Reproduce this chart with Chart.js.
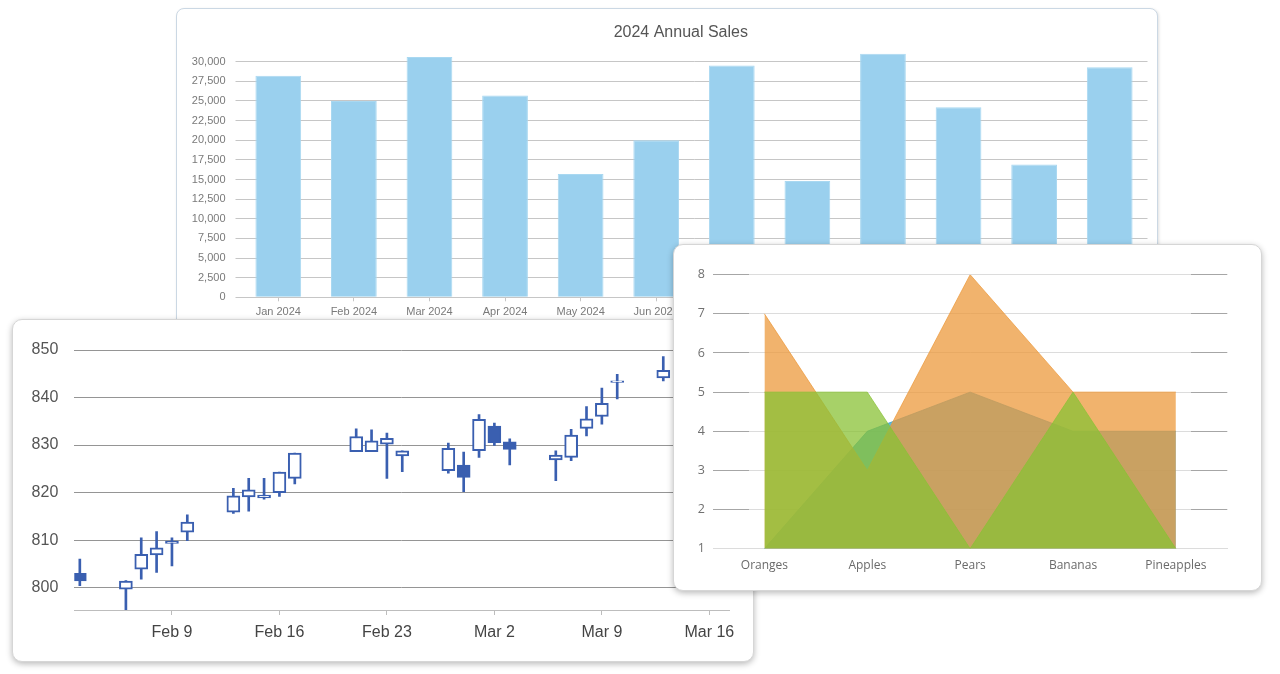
<!DOCTYPE html>
<html lang="en">
<head>
<meta charset="utf-8">
<title>Chart gallery</title>
<script src="https://cdn.jsdelivr.net/npm/chart.js@4.4.1/dist/chart.umd.min.js"></script>
<style>
  html, body { margin: 0; padding: 0; background: #fff; width: 1280px; height: 674px; overflow: hidden; }
  .card { position: absolute; box-sizing: border-box; background: #fff; overflow: hidden; }
  .card canvas { position: absolute; left: 0; top: 0; }
  #salesCard { left: 176px; top: 8px; width: 982px; height: 330px; border: 1px solid #cbd8e4; border-radius: 8px; box-shadow: 1px 1px 3px rgba(0,0,0,0.12); }
  #stockCard { left: 12px; top: 319px; width: 742px; height: 343px; border: 1px solid #d6d6d6; border-radius: 10px; box-shadow: 0 2px 6px rgba(0,0,0,0.28); }
  #fruitCard { left: 673px; top: 244px; width: 589px; height: 347px; border: 1px solid #d6d6d6; border-radius: 10px; box-shadow: 0 2px 6px rgba(0,0,0,0.28); }
</style>
</head>
<body>
<div class="card" id="salesCard"><canvas id="salesChart" width="980" height="328"></canvas></div>
<div class="card" id="stockCard"><canvas id="stockChart" width="740" height="341"></canvas></div>
<div class="card" id="fruitCard"><canvas id="fruitChart" width="587" height="345"></canvas></div>

<script>
// ── Sales (bar) data ──────────────────────────────────────
const salesTitle = '2024 Annual Sales';
const salesMonths = ['Jan 2024', 'Feb 2024', 'Mar 2024', 'Apr 2024', 'May 2024', 'Jun 2024',
                     'Jul 2024', 'Aug 2024', 'Sep 2024', 'Oct 2024', 'Nov 2024', 'Dec 2024'];
const salesValues = [28200, 25000, 30600, 25700, 15700, 20000, 29500, 14800, 31000, 24200, 16900, 29300];
const salesTicks = [0, 2500, 5000, 7500, 10000, 12500, 15000, 17500, 20000, 22500, 25000, 27500, 30000];

// ── Stock (candlestick) data — day number counted from Jan 31 ──
const stockDays  = [3, 6, 7, 8, 9, 10, 13, 14, 15, 16, 17, 21, 22, 23, 24, 27, 28, 29, 30, 31, 34, 35, 36, 37, 38, 41];
const stockOpen  = [803.0, 799.7, 803.9, 806.9, 809.3, 811.7, 815.9, 819.1, 818.9, 820.0, 823.0, 828.6, 828.6,
                    830.2, 827.7, 824.6, 825.8, 828.8, 834.0, 830.7, 826.9, 827.4, 833.5, 836.0, 843.2, 844.1];
const stockHigh  = [806.0, 801.5, 810.5, 811.8, 810.5, 815.3, 820.9, 823.0, 823.0, 824.3, 828.3, 833.4, 833.2,
                    832.5, 828.8, 830.4, 828.5, 836.4, 834.6, 831.3, 828.8, 833.3, 838.1, 842.0, 844.9, 848.6];
const stockLow   = [800.4, 794.0, 801.8, 803.2, 804.6, 809.9, 815.6, 816.1, 818.6, 819.2, 821.8, 828.6, 828.6,
                    823.0, 824.4, 824.1, 820.2, 827.4, 829.9, 825.8, 822.5, 826.7, 831.9, 834.4, 839.7, 843.5];
const stockClose = [801.4, 801.4, 807.0, 808.4, 809.8, 813.8, 819.3, 820.6, 819.5, 824.3, 828.3, 831.8, 830.9,
                    831.4, 828.8, 829.3, 823.2, 835.4, 830.5, 829.1, 827.9, 832.1, 835.5, 838.8, 843.5, 845.7];
const stockTickDays   = [9, 16, 23, 30, 37, 44];
const stockTickLabels = ['Feb 9', 'Feb 16', 'Feb 23', 'Mar 2', 'Mar 9', 'Mar 16'];
const stockYTicks     = [800, 810, 820, 830, 840, 850];

// ── Fruit (area) data ─────────────────────────────────────
const fruitNames  = ['Oranges', 'Apples', 'Pears', 'Bananas', 'Pineapples'];
const fruitBlue   = [1, 4, 5, 4, 4];
const fruitOrange = [7, 3, 8, 5, 5];
const fruitGreen  = [5, 5, 1, 5, 1];
const fruitYTicks = [1, 2, 3, 4, 5, 6, 7, 8];

// ── Helpers ───────────────────────────────────────────────
const SANS = '"Liberation Sans", Arial, Helvetica, sans-serif';
const SEGOE = '"Open Sans", "Noto Sans", sans-serif';
const CANDLE = '#3a5fb0';

const fixedTicks = list => scale => { scale.ticks = list.map(v => ({ value: v })); };
const fixedWidth = w => scale => { scale.width = w; };
const fixedHeight = h => scale => { scale.height = h; };
const quiet = { legend: { display: false }, tooltip: { enabled: false } };

// the original title sits a little left of the plot centre, so draw it by hand
const titleAt = {
  id: 'titleAt',
  afterDraw(chart, args, opts) {
    const c = chart.ctx;
    c.save();
    c.font = `16px ${SANS}`;
    c.fillStyle = '#555';
    c.textAlign = 'center';
    c.textBaseline = 'middle';
    c.fillText(opts.text, opts.x, opts.y);
    c.restore();
  },
};

// darker stubs at both ends of each gridline, like the original
function edgeGridColor(ctx) {
  const chart = ctx.chart, area = chart.chartArea;
  if (!area || (ctx.tick && ctx.tick.value === 1)) return '#dcdcdc';
  const g = chart.ctx.createLinearGradient(area.left, 0, area.right, 0);
  g.addColorStop(0, '#a6a6a6');
  g.addColorStop(0.07, '#a6a6a6');
  g.addColorStop(0.0701, '#dcdcdc');
  g.addColorStop(0.9299, '#dcdcdc');
  g.addColorStop(0.93, '#a6a6a6');
  g.addColorStop(1, '#a6a6a6');
  return g;
}

// ── Sales bar chart ───────────────────────────────────────
new Chart(document.getElementById('salesChart'), {
  type: 'bar',
  data: {
    labels: salesMonths,
    datasets: [{
      data: salesValues,
      backgroundColor: '#9ad0ee',
      borderColor: '#a9d8f1',
      borderWidth: 1,
      barPercentage: 0.605,
      categoryPercentage: 1,
    }],
  },
  plugins: [titleAt],
  options: {
    responsive: false,
    animation: false,
    layout: { padding: { left: 4, right: 9.5, top: 40.9, bottom: 9.7 } },
    plugins: {
      ...quiet,
      titleAt: { text: salesTitle, x: 503.8, y: 24 },
    },
    scales: {
      x: {
        afterFit: fixedHeight(30),
        grid: { offset: false, drawOnChartArea: false, tickLength: 4, color: '#c6c6c6' },
        border: { color: '#c6c6c6' },
        ticks: { padding: 4, color: '#7a7a7a', font: { family: SANS, size: 11 }, maxRotation: 0, autoSkip: false },
      },
      y: {
        min: 0,
        max: 31500,
        afterBuildTicks: fixedTicks(salesTicks),
        afterFit: fixedWidth(59.5),
        grid: { color: '#c6c6c6', tickLength: 5 },
        border: { display: false },
        ticks: { padding: 10, color: '#7a7a7a', font: { family: SANS, size: 11 }, callback: v => v.toLocaleString('en-US') },
      },
    },
  },
});

// ── Stock candlestick chart (floating bars: wick + body) ──
new Chart(document.getElementById('stockChart'), {
  type: 'bar',
  data: {
    datasets: [
      {
        order: 0,
        grouped: false,
        barThickness: 13,
        borderWidth: 2,
        borderColor: CANDLE,
        borderSkipped: false,
        backgroundColor: stockOpen.map((o, i) => (stockClose[i] < o ? CANDLE : '#ffffff')),
        data: stockDays.map((d, i) => ({ x: d, y: [stockOpen[i], stockClose[i]] })),
      },
      {
        order: 1,
        grouped: false,
        barThickness: 2,
        borderWidth: 0,
        backgroundColor: CANDLE,
        data: stockDays.map((d, i) => ({ x: d, y: [stockLow[i], stockHigh[i]] })),
      },
    ],
  },
  options: {
    responsive: false,
    animation: false,
    layout: { padding: { left: 11.3, right: 23.7, top: 30, bottom: 11 } },
    plugins: quiet,
    scales: {
      x: {
        type: 'linear',
        min: 2.64,
        max: 45.3,
        offset: false,
        afterBuildTicks: fixedTicks(stockTickDays),
        afterFit: fixedHeight(40),
        grid: { offset: false, drawOnChartArea: false, tickLength: 5, color: '#bdbdbd' },
        border: { color: '#bdbdbd' },
        ticks: {
          padding: 8, color: '#444', maxRotation: 0, autoSkip: false,
          font: { family: SANS, size: 16 },
          callback: v => stockTickLabels[stockTickDays.indexOf(v)],
        },
      },
      y: {
        min: 795.3,
        max: 850,
        beginAtZero: false,
        afterBuildTicks: fixedTicks(stockYTicks),
        afterFit: fixedWidth(50),
        grid: { color: '#959595', drawTicks: false },
        border: { display: false },
        ticks: { padding: 16, color: '#555', font: { family: SANS, size: 16 } },
      },
    },
  },
});

// ── Fruit area chart ──────────────────────────────────────
const area = (values, rgb, order) => ({
  data: values,
  order,
  fill: 'start',
  backgroundColor: `rgba(${rgb},0.75)`,
  borderColor: `rgba(${rgb},0.75)`,
  borderWidth: 1,
  pointRadius: 0,
  tension: 0,
});

new Chart(document.getElementById('fruitChart'), {
  type: 'line',
  data: {
    labels: fruitNames,
    datasets: [
      area(fruitGreen, '137,194,53', 0),
      area(fruitOrange, '236,153,60', 1),
      area(fruitBlue, '45,159,199', 2),
    ],
  },
  options: {
    responsive: false,
    animation: false,
    layout: { padding: { left: 9, right: 33.7, top: 29.7, bottom: 11.3 } },
    plugins: quiet,
    scales: {
      x: {
        offset: true,
        afterFit: fixedHeight(30),
        grid: { display: false },
        border: { color: '#dcdcdc' },
        ticks: { padding: 1.5, color: '#6a6a6a', font: { family: SEGOE, size: 12 }, maxRotation: 0, autoSkip: false },
      },
      y: {
        min: 1,
        max: 8,
        afterBuildTicks: fixedTicks(fruitYTicks),
        afterFit: fixedWidth(30),
        grid: { color: edgeGridColor, drawTicks: false },
        border: { display: false },
        ticks: { padding: 8, color: '#707070', font: { family: SEGOE, size: 12.5 } },
      },
    },
  },
});
</script>
</body>
</html>
